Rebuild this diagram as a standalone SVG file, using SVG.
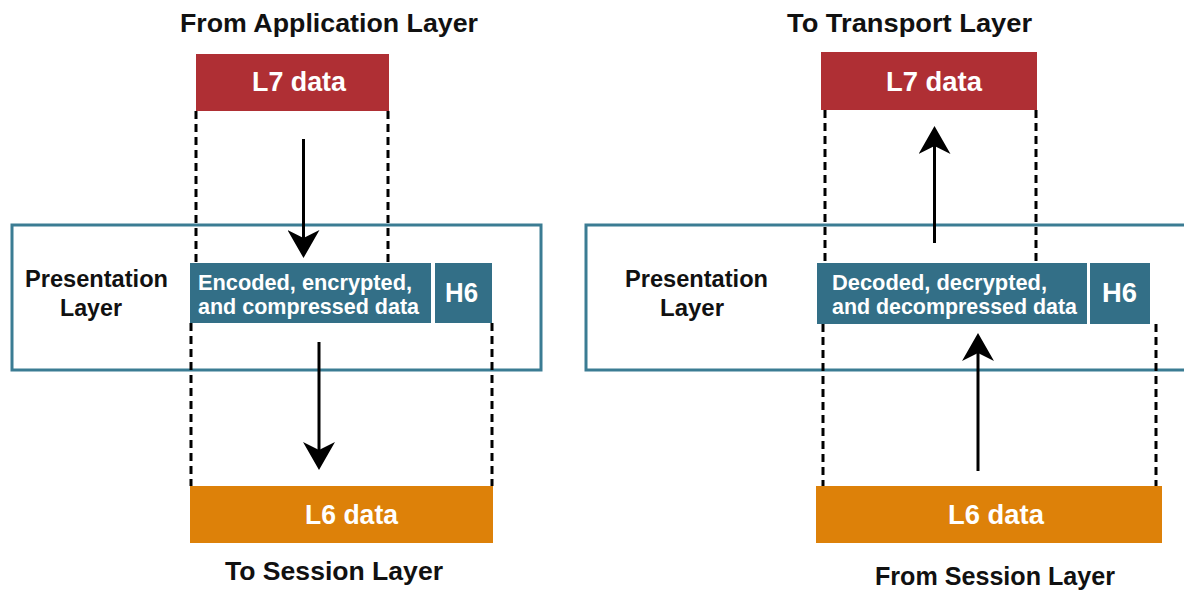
<svg xmlns="http://www.w3.org/2000/svg" width="1184" height="590" viewBox="0 0 1184 590">
<style>
text{font-family:"Liberation Sans",Arial,sans-serif;font-weight:bold}
.t{fill:#111;font-size:26px}
.w{fill:#fff}
.big{font-size:27px}
.sm{font-size:22px}
.lbl{fill:#111;font-size:23px}
.layer{fill:#fff;stroke:#3B7C93;stroke-width:3}
.red{fill:#AF2F34}
.blue{fill:#336F87}
.org{fill:#DD8109}
.dash{stroke:#000;stroke-width:3;stroke-dasharray:8 5;fill:none}
.arr{stroke:#000;stroke-width:3;fill:none;marker-end:url(#ah)}
</style>
<defs>
<marker id="ah" viewBox="0 0 28 32" refX="18" refY="16" markerWidth="28" markerHeight="32" markerUnits="userSpaceOnUse" orient="auto">
<path d="M0,0 L28,16 L0,32 L8,16 Z" fill="#000"/>
</marker>
</defs>
<rect width="1184" height="590" fill="#fff"/>

<g id="left-presentation-layer">
<rect class="layer" x="12" y="225" width="529" height="145"/>
<text class="lbl" x="25" y="287" textLength="143" lengthAdjust="spacingAndGlyphs">Presentation</text>
<text class="lbl" x="60" y="316" textLength="62" lengthAdjust="spacingAndGlyphs">Layer</text>
</g>
<g id="right-presentation-layer">
<rect class="layer" x="586" y="225" width="610" height="145"/>
<text class="lbl" x="625" y="287" textLength="143" lengthAdjust="spacingAndGlyphs">Presentation</text>
<text class="lbl" x="660" y="316" textLength="64" lengthAdjust="spacingAndGlyphs">Layer</text>
</g>

<g id="connectors">
<line class="dash" x1="196" y1="111" x2="196" y2="263"/>
<line class="dash" x1="388" y1="111" x2="388" y2="263"/>
<line class="dash" x1="191" y1="323" x2="191" y2="486"/>
<line class="dash" x1="492" y1="323" x2="492" y2="486"/>
<line class="dash" x1="825" y1="110" x2="825" y2="263"/>
<line class="dash" x1="1036" y1="110" x2="1036" y2="263"/>
<line class="dash" x1="823" y1="324" x2="823" y2="486"/>
<line class="dash" x1="1156" y1="324" x2="1156" y2="486"/>
<line class="arr" x1="303.5" y1="139" x2="303.5" y2="248"/>
<line class="arr" x1="319" y1="342" x2="319" y2="460"/>
<line class="arr" x1="934.5" y1="243" x2="934.5" y2="136"/>
<line class="arr" x1="978" y1="471" x2="978" y2="343"/>
</g>

<g id="title-from-application">
<text class="t" x="180" y="32" textLength="298" lengthAdjust="spacingAndGlyphs">From Application Layer</text>
</g>
<g id="left-l7">
<rect class="red" x="196" y="54" width="193" height="57"/>
<text class="w big" x="252" y="91" textLength="94" lengthAdjust="spacingAndGlyphs">L7 data</text>
</g>
<g id="left-encoded">
<rect class="blue" x="190" y="263" width="241" height="60"/>
<text class="w sm" x="198" y="290" textLength="214" lengthAdjust="spacingAndGlyphs">Encoded, encrypted,</text>
<text class="w sm" x="198" y="314" textLength="221" lengthAdjust="spacingAndGlyphs">and compressed data</text>
</g>
<g id="left-h6">
<rect class="blue" x="435" y="263" width="57" height="60"/>
<text class="w big" x="445" y="302" textLength="33" lengthAdjust="spacingAndGlyphs">H6</text>
</g>
<g id="left-l6">
<rect class="org" x="190" y="486" width="303" height="57"/>
<text class="w big" x="305" y="524" textLength="93" lengthAdjust="spacingAndGlyphs">L6 data</text>
</g>
<g id="title-to-session">
<text class="t" x="225" y="580" textLength="218" lengthAdjust="spacingAndGlyphs">To Session Layer</text>
</g>

<g id="title-to-transport">
<text class="t" x="787" y="32" textLength="245" lengthAdjust="spacingAndGlyphs">To Transport Layer</text>
</g>
<g id="right-l7">
<rect class="red" x="821" y="52" width="216" height="58"/>
<text class="w big" x="886" y="91" textLength="96" lengthAdjust="spacingAndGlyphs">L7 data</text>
</g>
<g id="right-decoded">
<rect class="blue" x="817" y="263" width="270" height="61"/>
<text class="w sm" x="832" y="290" textLength="215" lengthAdjust="spacingAndGlyphs">Decoded, decrypted,</text>
<text class="w sm" x="832" y="314" textLength="245" lengthAdjust="spacingAndGlyphs">and decompressed data</text>
</g>
<g id="right-h6">
<rect class="blue" x="1090" y="263" width="60" height="61"/>
<text class="w big" x="1102" y="302" textLength="35" lengthAdjust="spacingAndGlyphs">H6</text>
</g>
<g id="right-l6">
<rect class="org" x="816" y="486" width="346" height="57"/>
<text class="w big" x="948" y="524" textLength="96" lengthAdjust="spacingAndGlyphs">L6 data</text>
</g>
<g id="title-from-session">
<text class="t" x="875" y="585" textLength="240" lengthAdjust="spacingAndGlyphs">From Session Layer</text>
</g>
</svg>
